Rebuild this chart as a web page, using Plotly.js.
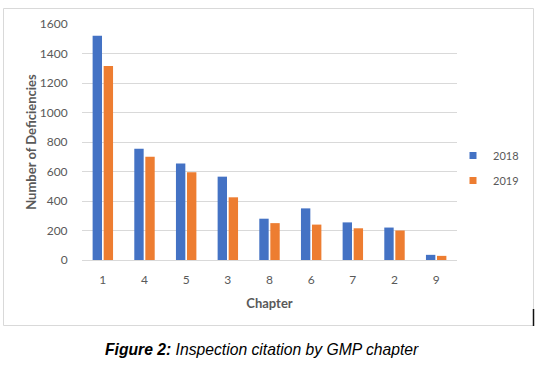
<!DOCTYPE html>
<html>
<head>
<meta charset="utf-8">
<script src="https://cdn.plot.ly/plotly-3.0.1.min.js"></script>
<style>
html,body{margin:0;padding:0;background:#fff;}
#chart{width:542px;height:370px;}
</style>
</head>
<body>
<div id="chart"></div>
<script>
// Data
const chapters = ["1", "4", "5", "3", "8", "6", "7", "2", "9"];
const values2018 = [1520, 755, 655, 565, 280, 350, 255, 220, 35];
const values2019 = [1315, 700, 595, 425, 250, 240, 215, 200, 28];
const seriesNames = ["2018", "2019"];
const yTicks = [0, 200, 400, 600, 800, 1000, 1200, 1400, 1600];

const blue = "#4472C4";
const orange = "#ED7D31";
const gray = "#595959";
const grid = "#D9D9D9";

// plot area in pixels: x 82..457, y 24..260
const L = 82, R = 457, T = 24, B = 260, W = 542, H = 370;
const px = x => (x - L) / (R - L);
const py = y => (B - y) / (B - T);

const traces = [
  {type: "bar", x: chapters, y: values2018, name: seriesNames[0],
   marker: {color: blue}, showlegend: false, hoverinfo: "x+y+name"},
  {type: "bar", x: chapters, y: values2019, name: seriesNames[1],
   marker: {color: orange}, showlegend: false, hoverinfo: "x+y+name"},
  // legend entries (small square keys like the reference)
  {type: "scatter", mode: "markers", x: [null], y: [null], name: seriesNames[0],
   marker: {color: blue, symbol: "square", size: 7}, legendgroup: "a"},
  {type: "scatter", mode: "markers", x: [null], y: [null], name: seriesNames[1],
   marker: {color: orange, symbol: "square", size: 7}, legendgroup: "b"}
];

const layout = {
  width: W, height: H,
  margin: {l: L, r: W - R, t: T, b: H - B, pad: 0},
  paper_bgcolor: "#fff", plot_bgcolor: "#fff",
  font: {family: "Lato, 'Open Sans', sans-serif", size: 12, color: gray},
  bargap: 0.47, bargroupgap: 0.15, barmode: "group",
  xaxis: {
    type: "category", categoryorder: "array", categoryarray: chapters,
    showgrid: false, showline: true, linecolor: grid, linewidth: 1,
    ticks: "outside", ticklen: 9, tickcolor: "rgba(0,0,0,0)",
    tickfont: {size: 12, color: gray},
    title: {text: "<b>Chapter</b>", font: {size: 13, color: gray}, standoff: 12},
    fixedrange: true, zeroline: false, automargin: false
  },
  yaxis: {
    range: [0, 1600], tickvals: yTicks, ticktext: yTicks.map(String),
    showgrid: true, gridcolor: grid, gridwidth: 1,
    zeroline: true, zerolinecolor: grid, showline: false,
    ticks: "outside", ticklen: 11, tickcolor: "rgba(0,0,0,0)",
    tickfont: {size: 12, color: gray},
    title: {text: "<b>Number of Deficiencies</b>", font: {size: 13, color: gray}, standoff: 0},
    fixedrange: true, automargin: false
  },
  legend: {
    x: px(453), y: py(141), xanchor: "left", yanchor: "top",
    traceorder: "grouped", tracegroupgap: 6,
    font: {size: 11, color: gray}, bgcolor: "rgba(0,0,0,0)", itemwidth: 30
  },
  shapes: [
    {type: "rect", xref: "paper", yref: "paper",
     x0: px(3.5), x1: px(533.5), y0: py(325.5), y1: py(8.5),
     line: {color: grid, width: 1}, fillcolor: "rgba(0,0,0,0)", layer: "below"},
    {type: "line", xref: "paper", yref: "paper",
     x0: px(533.5), x1: px(533.5), y0: py(326), y1: py(309),
     line: {color: "#111", width: 1.5}}
  ],
  annotations: [
    {xref: "paper", yref: "paper", x: px(262), y: py(349), xanchor: "center", yanchor: "middle",
     showarrow: false,
     text: "<b><i>Figure 2:</i></b><i> Inspection citation by GMP chapter</i>",
     font: {family: "'Liberation Sans', Arial, sans-serif", size: 15.7, color: "#000"}}
  ]
};

Plotly.newPlot("chart", traces, layout, {displayModeBar: false, staticPlot: true});
</script>
</body>
</html>
